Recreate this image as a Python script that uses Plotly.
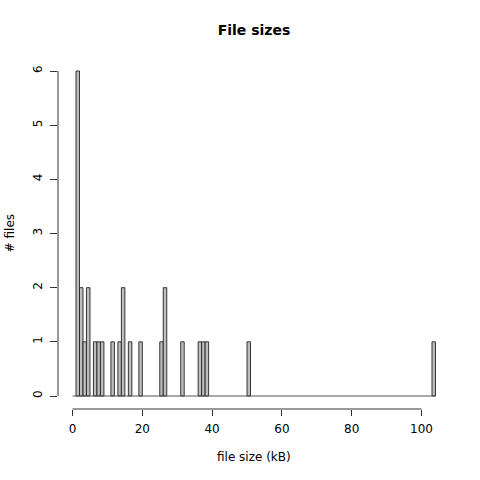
import plotly.graph_objects as go

# histogram of file sizes, 1 kB bins from 0 to 104
bin_left = [1, 2, 3, 4, 6, 7, 8, 11, 13, 14, 16, 19, 25, 26, 31, 36, 37, 38, 50, 103]
counts = [6, 2, 1, 2, 1, 1, 1, 1, 1, 2, 1, 1, 1, 2, 1, 1, 1, 1, 1, 1]
break_min, break_max = 0, 104
bin_width = 1

x_ticks = [0, 20, 40, 60, 80, 100]
y_ticks = [0, 1, 2, 3, 4, 5, 6]

font = "DejaVu Sans"

fig = go.Figure()

# zero-height bins show up as a flat line along the bottom
fig.add_trace(go.Scatter(x=[break_min, break_max], y=[0, 0], mode="lines",
                         line=dict(color="#555555", width=1), hoverinfo="skip"))

fig.add_trace(go.Bar(x=[b + bin_width / 2 for b in bin_left], y=counts, width=bin_width,
                     marker=dict(color="#BEBEBE", line=dict(color="#222222", width=0.9))))

xr = [break_min - 0.04 * (break_max - break_min), break_max + 0.04 * (break_max - break_min)]
yr = [-0.04 * max(y_ticks), max(y_ticks) * 1.04]

fig.update_layout(
    width=480, height=480,
    margin=dict(l=58, r=30, t=58, b=71),
    plot_bgcolor="white", paper_bgcolor="white",
    showlegend=False,
    font=dict(family=font, size=12, color="black"),
    title=dict(text="<b>File sizes</b>", x=254 / 480, xanchor="center",
               y=1 - 30 / 480, yanchor="middle", font=dict(size=14)),
    xaxis=dict(range=xr, tickvals=x_ticks, ticks="outside", ticklen=6,
               tickcolor="#333333", showgrid=False, zeroline=False, showline=False,
               ticklabelstandoff=3),
    yaxis=dict(range=yr, tickvals=y_ticks, ticks="outside", ticklen=7, tickangle=-90,
               tickcolor="#333333", showgrid=False, zeroline=False, showline=False,
               ticklabelstandoff=3),
    shapes=[
        dict(type="line", xref="x", yref="paper", x0=x_ticks[0], x1=x_ticks[-1], y0=0, y1=0,
             line=dict(color="#333333", width=1)),
        dict(type="line", xref="paper", yref="y", x0=0, x1=0, y0=y_ticks[0], y1=y_ticks[-1],
             line=dict(color="#333333", width=1)),
    ],
    annotations=[
        dict(text="file size (kB)", xref="paper", yref="paper", x=0.5, y=-48 / 351,
             yanchor="middle", showarrow=False),
        dict(text="# files", xref="paper", yref="paper", x=-48 / 391, y=0.5,
             xanchor="center", textangle=-90, showarrow=False),
    ],
)

# drop the default page margin so the figure sits at the window's corner
fig.write_html("out.html", config={"displayModeBar": False},
               post_script="document.body.style.margin='0';")
